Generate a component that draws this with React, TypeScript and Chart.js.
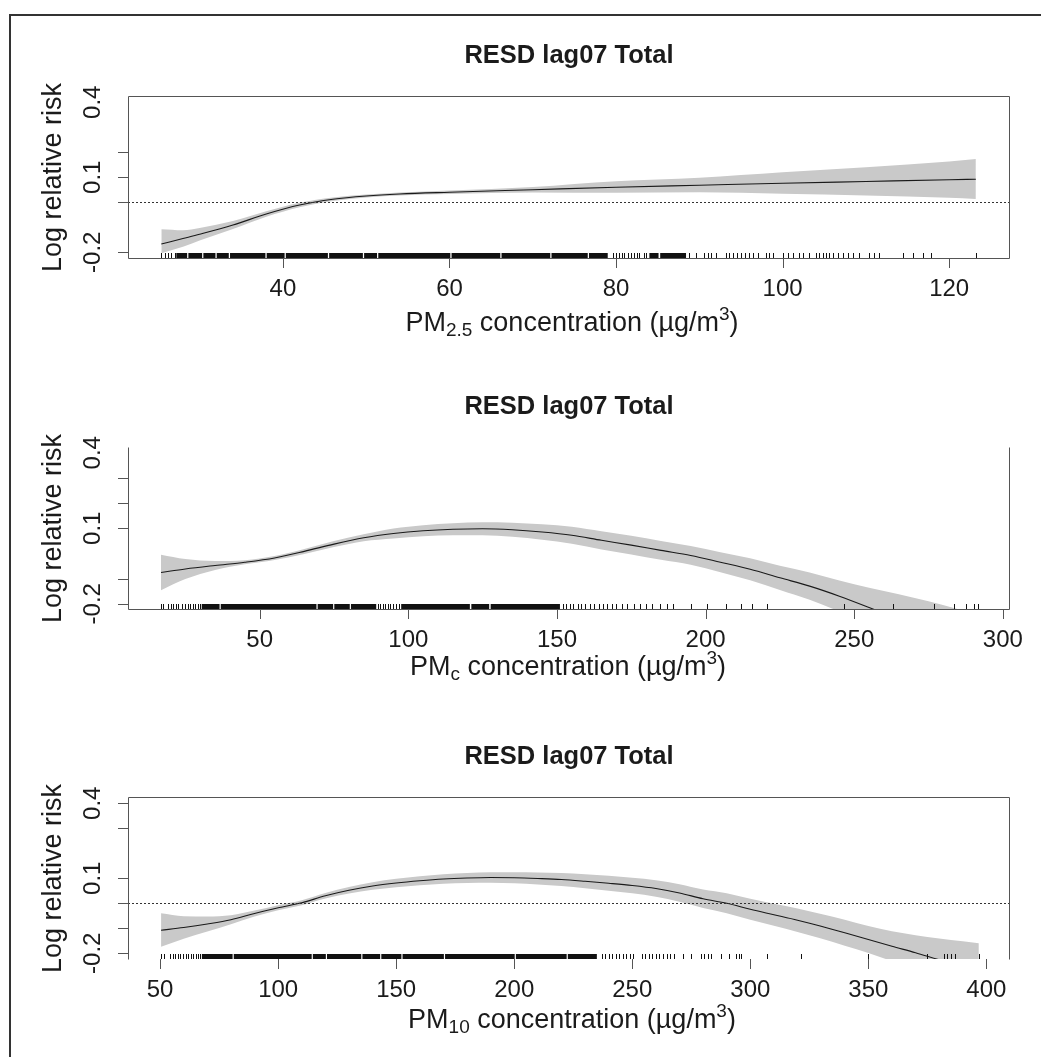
import React, { useEffect, useRef } from "react";
import { Chart, registerables } from "chart.js";
Chart.register(...registerables);

const FONT = "'Liberation Sans', Arial, Helvetica, sans-serif";
const TEXT = "#1b1b1b";
const BAND = "#c9c9c9";

// ---------- Panel 1: PM2.5 ----------
const pm25X = [25.4, 28, 30, 34, 38, 42, 46, 50, 54, 60, 70, 80, 90, 100, 110, 120, 123.2];
const pm25Est = [-0.167, -0.145, -0.128, -0.091, -0.047, -0.011, 0.012, 0.025, 0.033, 0.040, 0.050, 0.060, 0.068, 0.076, 0.083, 0.090, 0.092];
const pm25Lo = [-0.204, -0.178, -0.153, -0.107, -0.058, -0.020, 0.005, 0.019, 0.027, 0.033, 0.039, 0.038, 0.040, 0.034, 0.027, 0.018, 0.013];
const pm25Hi = [-0.108, -0.112, -0.103, -0.075, -0.036, -0.002, 0.019, 0.031, 0.039, 0.047, 0.061, 0.084, 0.098, 0.120, 0.140, 0.163, 0.173];
const pm25XTicks = [40, 60, 80, 100, 120];
const pm25YTicks = [0.2, 0.1, 0, -0.2];
const pm25RugRuns = [[27.2, 28.5], [28.65, 30.3], [30.45, 31.9], [32.05, 33.5], [33.65, 37.9], [38.05, 40.2], [40.35, 45.4], [45.55, 49.6], [49.75, 51.3], [51.45, 60.1], [60.25, 66.1], [66.25, 72.1], [72.25, 76.6], [76.75, 79], [84, 85.1], [85.3, 88.4]];
const pm25RugTicks = [25.4, 25.8, 26.2, 26.6, 27.0, 79.6, 80.0, 80.3, 80.7, 81.0, 81.4, 81.8, 82.1, 82.5, 82.8, 83.3, 83.6, 88.8, 89.6, 90.6, 91.0, 91.4, 92.0, 93.2, 93.6, 94.0, 94.5, 95.0, 95.5, 96.0, 96.5, 97.0, 98.0, 98.4, 98.8, 100.0, 100.6, 101.2, 102.0, 102.4, 103.2, 104.0, 104.4, 104.8, 105.2, 105.6, 106.0, 106.6, 107.2, 107.8, 108.4, 109.2, 110.4, 111.0, 111.6, 114.4, 115.6, 116.8, 117.8, 123.2];

// ---------- Panel 2: PMc ----------
const pmcX = [16.8, 25, 35, 45, 55, 65, 75, 85, 95, 105, 115, 125, 135, 145, 155, 165, 175, 185, 195, 205, 215, 225, 235, 245, 255, 265, 275, 285, 292];
const pmcEst = [-0.076, -0.062, -0.048, -0.035, -0.018, 0.008, 0.037, 0.062, 0.079, 0.090, 0.096, 0.098, 0.094, 0.085, 0.072, 0.052, 0.033, 0.012, -0.008, -0.035, -0.063, -0.097, -0.130, -0.170, -0.215, -0.262, -0.310, -0.360, -0.395];
const pmcLo = [-0.146, -0.102, -0.066, -0.043, -0.026, -0.002, 0.025, 0.048, 0.059, 0.068, 0.072, 0.072, 0.066, 0.054, 0.038, 0.016, -0.004, -0.025, -0.045, -0.075, -0.107, -0.145, -0.184, -0.232, -0.293, -0.362, -0.430, -0.498, -0.545];
const pmcHi = [-0.005, -0.022, -0.030, -0.027, -0.010, 0.018, 0.049, 0.076, 0.099, 0.112, 0.120, 0.124, 0.122, 0.116, 0.106, 0.088, 0.070, 0.049, 0.029, 0.005, -0.019, -0.049, -0.076, -0.108, -0.137, -0.162, -0.190, -0.222, -0.245];
const pmcXTicks = [50, 100, 150, 200, 250, 300];
const pmcYTicks = [0.3, 0.2, 0.1, -0.1, -0.2];
const pmcRugRuns = [[30.5, 36.5], [36.9, 69.1], [69.5, 74.7], [75.1, 80.3], [80.7, 89.2], [97.6, 120.7], [121.2, 127.2], [127.7, 151]];
const pmcRugTicks = [16.8, 17.6, 19.3, 20.2, 21, 21.8, 22.6, 23.8, 25, 25.8, 26.7, 27.5, 28.3, 29.2, 30, 89.8, 90.6, 91.4, 92.3, 93.1, 94, 95, 96, 97, 152, 153, 154.5, 155.5, 157, 158, 159.5, 161, 162.5, 164, 165.5, 167, 168.5, 170, 172, 173.5, 176, 178, 180, 182, 184.5, 187, 189, 195, 200.5, 206.7, 211.8, 215.7, 220.8, 246.6, 262.9, 276.9, 283.6, 287.5, 290.3, 291.5];

// ---------- Panel 3: PM10 ----------
const pm10X = [50.4, 60, 70, 80, 90, 100, 110, 120, 130, 140, 150, 160, 170, 180, 190, 200, 210, 220, 230, 240, 250, 260, 270, 280, 290, 300, 310, 320, 330, 340, 350, 360, 370, 380, 390, 396.8];
const pm10Est = [-0.108, -0.097, -0.083, -0.066, -0.041, -0.018, 0.002, 0.030, 0.052, 0.069, 0.081, 0.090, 0.097, 0.101, 0.103, 0.102, 0.099, 0.095, 0.088, 0.080, 0.071, 0.059, 0.041, 0.018, 0.000, -0.024, -0.046, -0.068, -0.092, -0.118, -0.145, -0.172, -0.198, -0.226, -0.252, -0.270];
const pm10Lo = [-0.174, -0.142, -0.113, -0.084, -0.053, -0.028, -0.008, 0.019, 0.039, 0.054, 0.064, 0.072, 0.078, 0.081, 0.082, 0.080, 0.075, 0.069, 0.060, 0.050, 0.040, 0.026, 0.006, -0.019, -0.040, -0.066, -0.090, -0.115, -0.141, -0.170, -0.199, -0.232, -0.268, -0.311, -0.352, -0.380];
const pm10Hi = [-0.040, -0.052, -0.053, -0.048, -0.029, -0.008, 0.012, 0.041, 0.065, 0.084, 0.098, 0.108, 0.116, 0.121, 0.124, 0.124, 0.123, 0.121, 0.116, 0.110, 0.102, 0.092, 0.076, 0.055, 0.040, 0.018, -0.002, -0.021, -0.043, -0.066, -0.091, -0.112, -0.128, -0.141, -0.152, -0.160];
const pm10XTicks = [50, 100, 150, 200, 250, 300, 350, 400];
const pm10YTicks = [0.4, 0.3, 0.1, 0, -0.1, -0.2];
const pm10RugRuns = [[67.7, 80.7], [81.2, 114.2], [114.7, 120.2], [120.7, 135.2], [135.7, 143.2], [143.7, 152.2], [152.7, 170.2], [170.7, 200.2], [200.7, 222.2], [222.7, 235]];
const pm10RugTicks = [50.4, 51.5, 54, 55.5, 56.5, 57.5, 58.5, 59.5, 61, 62, 63, 64, 65, 66, 67, 237, 238.5, 240, 241.5, 243, 244.5, 246, 247.5, 249, 250.5, 254, 255.5, 257, 258.5, 260, 261.5, 263, 264.5, 266, 267.5, 271.5, 275, 279, 280.5, 282, 283.5, 287.5, 291, 294, 295, 296, 306.9, 321.4, 350, 374.8, 381.9, 383.5, 385, 386.8, 396.8];

const yTickLabels = [0.4, 0.1, -0.2];
const titleText = "RESD lag07 Total";
const yTitle = "Log relative risk";

type Panel = {
  key: string;
  top: number;
  x: number[]; est: number[]; lo: number[]; hi: number[];
  xMin: number; xMax: number; yMin: number; yMax: number;
  xTicks: number[]; yTicks: number[];
  rugRuns: number[][]; rugTicks: number[];
  sub: string;
  zeroLine: boolean;
  sides: { top: boolean; right: boolean; bottom: boolean; left: boolean };
  xlabBase: number; xlabCenter: number;
};

const panels: Panel[] = [
  {
    key: "p1", top: 0, x: pm25X, est: pm25Est, lo: pm25Lo, hi: pm25Hi,
    xMin: 21.4, xMax: 127.3, yMin: -0.223, yMax: 0.421,
    xTicks: pm25XTicks, yTicks: pm25YTicks, rugRuns: pm25RugRuns, rugTicks: pm25RugTicks,
    sub: "2.5", zeroLine: true,
    sides: { top: true, right: true, bottom: true, left: true },
    xlabBase: 331, xlabCenter: 572,
  },
  {
    key: "p2", top: 351, x: pmcX, est: pmcEst, lo: pmcLo, hi: pmcHi,
    xMin: 5.7, xMax: 302.4, yMin: -0.221, yMax: 0.419,
    xTicks: pmcXTicks, yTicks: pmcYTicks, rugRuns: pmcRugRuns, rugTicks: pmcRugTicks,
    sub: "c", zeroLine: false,
    sides: { top: false, right: true, bottom: true, left: true },
    xlabBase: 324, xlabCenter: 568,
  },
  {
    key: "p3", top: 701, x: pm10X, est: pm10Est, lo: pm10Lo, hi: pm10Hi,
    xMin: 36.4, xMax: 410, yMin: -0.223, yMax: 0.421,
    xTicks: pm10XTicks, yTicks: pm10YTicks, rugRuns: pm10RugRuns, rugTicks: pm10RugTicks,
    sub: "10", zeroLine: true,
    sides: { top: true, right: true, bottom: false, left: true },
    xlabBase: 327, xlabCenter: 572,
  },
];

function fmt(v: number) {
  return v.toFixed(1);
}

function makePlugin(p: Panel) {
  return {
    id: "rpanel_" + p.key,
    afterDatasetsDraw(chart: any) {
      const ctx = chart.ctx as CanvasRenderingContext2D;
      const { left, right, bottom } = chart.chartArea;
      const xs = chart.scales.x;
      const ys = chart.scales.y;
      ctx.save();
      if (p.zeroLine) {
        const y = Math.round(ys.getPixelForValue(0)) + 0.5;
        ctx.setLineDash([2, 2]);
        ctx.strokeStyle = "#333";
        ctx.lineWidth = 1;
        ctx.beginPath();
        ctx.moveTo(left, y);
        ctx.lineTo(right, y);
        ctx.stroke();
        ctx.setLineDash([]);
      }
      // rug
      ctx.fillStyle = "#111";
      const rh = 5;
      for (const [a, b] of p.rugRuns) {
        const x0 = xs.getPixelForValue(a);
        const x1 = xs.getPixelForValue(b);
        ctx.fillRect(x0, bottom - rh, x1 - x0, rh);
      }
      for (const v of p.rugTicks) {
        const px = Math.round(xs.getPixelForValue(v));
        ctx.fillRect(px, bottom - rh, 1, rh);
      }
      ctx.restore();
    },
    afterDraw(chart: any) {
      const ctx = chart.ctx as CanvasRenderingContext2D;
      const { left, right, top, bottom } = chart.chartArea;
      const xs = chart.scales.x;
      const ys = chart.scales.y;
      ctx.save();
      ctx.strokeStyle = "#555";
      ctx.lineWidth = 1;
      ctx.beginPath();
      const L = left + 0.5, R = right - 0.5, T = top - 0.5, B = bottom + 0.5;
      if (p.sides.left) { ctx.moveTo(L, T); ctx.lineTo(L, B); }
      if (p.sides.right) { ctx.moveTo(R, T); ctx.lineTo(R, B); }
      if (p.sides.top) { ctx.moveTo(L, T); ctx.lineTo(R, T); }
      if (p.sides.bottom) { ctx.moveTo(L, B); ctx.lineTo(R, B); }
      for (const v of p.yTicks) {
        const y = Math.round(ys.getPixelForValue(v)) + 0.5;
        ctx.moveTo(left - 10, y);
        ctx.lineTo(left, y);
      }
      for (const v of p.xTicks) {
        const x = Math.round(xs.getPixelForValue(v)) + 0.5;
        ctx.moveTo(x, bottom);
        ctx.lineTo(x, bottom + 10);
      }
      ctx.stroke();

      ctx.fillStyle = TEXT;
      ctx.font = `24px ${FONT}`;
      ctx.textAlign = "center";
      ctx.textBaseline = "alphabetic";
      for (const v of p.xTicks) {
        ctx.fillText(String(v), xs.getPixelForValue(v), bottom + 38);
      }
      for (const v of yTickLabels) {
        ctx.save();
        ctx.translate(100, ys.getPixelForValue(v));
        ctx.rotate(-Math.PI / 2);
        ctx.fillText(fmt(v), 0, 0);
        ctx.restore();
      }
      ctx.font = `27px ${FONT}`;
      ctx.save();
      ctx.translate(61, (top + bottom) / 2);
      ctx.rotate(-Math.PI / 2);
      ctx.fillText(yTitle, 0, 0);
      ctx.restore();
      ctx.font = `bold 25.5px ${FONT}`;
      ctx.fillText(titleText, (left + right) / 2, top - 34);
      const big = `27px ${FONT}`;
      const small = `19px ${FONT}`;
      const parts: [string, string, number][] = [
        ["PM", big, 0],
        [p.sub, small, 5],
        [" concentration (\u00b5g/m", big, 0],
        ["3", small, -11],
        [")", big, 0],
      ];
      let total = 0;
      for (const [t, f] of parts) { ctx.font = f; total += ctx.measureText(t).width; }
      let x = p.xlabCenter - total / 2;
      ctx.textAlign = "left";
      for (const [t, f, dy] of parts) {
        ctx.font = f;
        ctx.fillText(t, x, p.xlabBase + dy);
        x += ctx.measureText(t).width;
      }
      ctx.restore();
    },
  };
}

function PanelChart({ p }: { p: Panel }) {
  const ref = useRef<HTMLCanvasElement>(null);
  useEffect(() => {
    if (!ref.current) return;
    const pts = (ys: number[]) => p.x.map((xv, i) => ({ x: xv, y: ys[i] }));
    const chart = new Chart(ref.current, {
      type: "line",
      data: {
        datasets: [
          {
            data: pts(p.est), borderColor: "#1a1a1a", borderWidth: 1.1, pointRadius: 0,
            fill: false, cubicInterpolationMode: "monotone", clip: 0,
          },
          {
            data: pts(p.hi), borderWidth: 0, borderColor: "rgba(0,0,0,0)", pointRadius: 0,
            backgroundColor: BAND, fill: "+1", cubicInterpolationMode: "monotone", clip: 0,
          },
          {
            data: pts(p.lo), borderWidth: 0, borderColor: "rgba(0,0,0,0)", pointRadius: 0,
            fill: false, cubicInterpolationMode: "monotone", clip: 0,
          },
        ],
      } as any,
      options: {
        responsive: false,
        animation: false,
        events: [],
        layout: { padding: { left: 128, right: 31, top: 97, bottom: 92 } },
        scales: {
          x: { type: "linear", display: false, min: p.xMin, max: p.xMax },
          y: { type: "linear", display: false, min: p.yMin, max: p.yMax },
        },
        plugins: { legend: { display: false }, tooltip: { enabled: false } },
      } as any,
      plugins: [makePlugin(p)],
    });
    return () => chart.destroy();
  }, [p]);
  return (
    <canvas
      ref={ref}
      width={1041}
      height={350}
      style={{ position: "absolute", left: 0, top: p.top, width: 1041, height: 350 }}
    />
  );
}

export default function App() {
  return (
    <div style={{ position: "absolute", left: 0, top: 0, width: 1041, height: 1057, background: "#fff", overflow: "hidden" }}>
      <div style={{ position: "absolute", left: 9, top: 14, width: 1040, height: 1050, borderTop: "2px solid #333", borderLeft: "2px solid #333" }} />
      {panels.map((p) => (
        <PanelChart key={p.key} p={p} />
      ))}
    </div>
  );
}
